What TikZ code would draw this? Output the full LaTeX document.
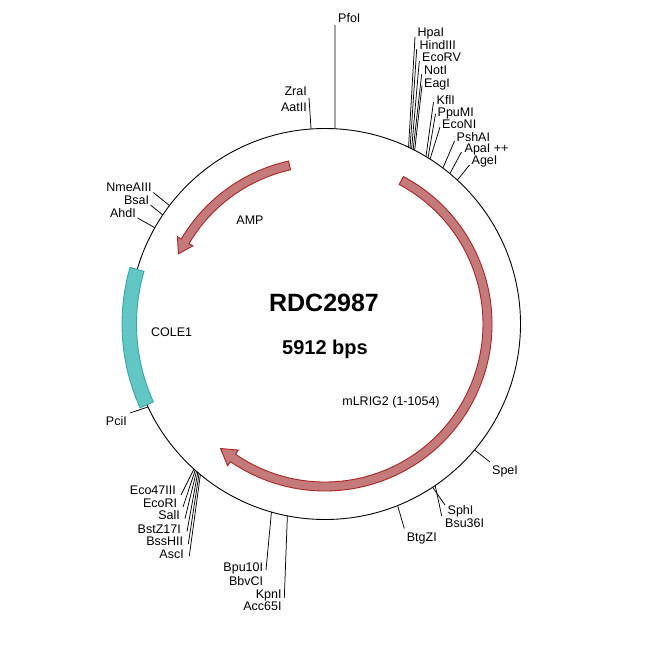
\documentclass[tikz,border=0pt]{standalone}
\usepackage{fontspec}
\setmainfont{Liberation Sans}
\definecolor{featfill}{RGB}{196,122,122}
\definecolor{featline}{RGB}{172,36,36}
\definecolor{orifill}{RGB}{98,198,196}
\definecolor{oriline}{RGB}{56,168,166}
\begin{document}
\begin{tikzpicture}[x=1pt,y=-1pt,
  site/.style={line width=0.75pt},
  lab/.style={font=\fontsize{12.5}{14}\selectfont, inner sep=0pt},
  labw/.style={lab, anchor=base west},
  labe/.style={lab, anchor=base east},
  feat/.style={fill=featfill, draw=featline, line width=0.9pt, line join=miter},
  ori/.style={fill=orifill, draw=oriline, line width=0.9pt}]
\useasboundingbox (0,0) rectangle (650,650);
\fill[white] (0,0) rectangle (650,650);
\coordinate (C) at (325,324);
\draw[line width=0.9pt] (C) circle[radius=195.5];

\begin{scope}[shift={(325,324)}]
% features
\draw[ori] (155.6:188.5) arc[start angle=155.6, end angle=196.2, radius=188.5]
  -- (196.2:203) arc[start angle=196.2, end angle=155.6, radius=203] -- cycle;
\draw[feat] (-62:167) arc[start angle=-62, end angle=124.5, radius=167]
  -- (124.5:172) -- (130:162.5) -- (124.5:153) -- (124.5:158)
  arc[start angle=124.5, end angle=-62, radius=158] -- cycle;
\draw[feat] (-102.6:167) arc[start angle=-102.6, end angle=-149.4, radius=167]
  -- (-149.4:171.5) -- (-154.4:162.5) -- (-149.4:153.5) -- (-149.4:158)
  arc[start angle=-149.4, end angle=-102.6, radius=158] -- cycle;
% site points on the circle
\coordinate (sPfo) at (-87.1:195.5);
\coordinate (sZra) at (-94.1:195.5);
\coordinate (sHpa) at (-64.7:195.5);
\coordinate (sHin) at (-64.2:195.5);
\coordinate (sEcV) at (-63.7:195.5);
\coordinate (sNot) at (-63.2:195.5);
\coordinate (sEag) at (-62.7:195.5);
\coordinate (sKfl) at (-58.9:195.5);
\coordinate (sPpu) at (-58.2:195.5);
\coordinate (sEcN) at (-57.5:195.5);
\coordinate (sPsh) at (-52.9:195.5);
\coordinate (sApa) at (-50.3:195.5);
\coordinate (sAge) at (-47.4:195.5);
\coordinate (sNme) at (-142.7:195.5);
\coordinate (sBsa) at (-146.1:195.5);
\coordinate (sAhd) at (-150.5:195.5);
\coordinate (sPci) at (154.9:195.5);
\coordinate (sE47) at (132.1:195.5);
\coordinate (sERI) at (131.6:195.5);
\coordinate (sSal) at (131.1:195.5);
\coordinate (sBst) at (130.6:195.5);
\coordinate (sBss) at (130.1:195.5);
\coordinate (sAsc) at (129.6:195.5);
\coordinate (sBpu) at (105.9:195.5);
\coordinate (sKpn) at (101.1:195.5);
\coordinate (sBtg) at (68.2:195.5);
\coordinate (sSph) at (56.6:195.5);
\coordinate (sBsu) at (55.7:195.5);
\coordinate (sSpe) at (40.1:195.5);
\end{scope}

% line ends
\coordinate (ePfo) at (335,25);
\coordinate (eZra) at (309,98);
\coordinate (eHpa) at (415,37);
\coordinate (eHin) at (416.7,49);
\coordinate (eEcV) at (419.3,61);
\coordinate (eNot) at (421.7,74);
\coordinate (eEag) at (422,85.5);
\coordinate (eKfl) at (433.5,102);
\coordinate (ePpu) at (435.5,114);
\coordinate (eEcN) at (440,127);
\coordinate (ePsh) at (454.5,141);
\coordinate (eApa) at (461.5,152);
\coordinate (eAge) at (469.5,165);
\coordinate (eNme) at (153.3,192.5);
\coordinate (eBsa) at (150.5,205);
\coordinate (eAhd) at (137.5,218);
\coordinate (ePci) at (130,413);
\coordinate (eE47) at (181,495);
\coordinate (eERI) at (183,507);
\coordinate (eSal) at (185,518.5);
\coordinate (eBst) at (187,531.5);
\coordinate (eBss) at (188.3,544);
\coordinate (eAsc) at (189.3,556);
\coordinate (eBpu) at (266,570);
\coordinate (eKpn) at (284.3,598);
\coordinate (eBtg) at (404.3,528.5);
\coordinate (eSph) at (445,505);
\coordinate (eBsu) at (441.7,516);
\coordinate (eSpe) at (490,462);

\foreach \s in {Pfo,Zra,Hpa,Hin,EcV,Not,Eag,Kfl,Ppu,EcN,Psh,Apa,Age,Nme,Bsa,Ahd,Pci,E47,ERI,Sal,Bst,Bss,Asc,Bpu,Kpn,Btg,Sph,Bsu,Spe}
  \draw[site] (s\s) -- (e\s);

% labels
\node[labw] (lPfo) at (338,22.5) {PfoI};
\node[labe] (lZra) at (307,96) {ZraI};
\node[labe] (lAat) at (307,111.6) {AatII};
\node[labw] (lHpa) at (417.5,37) {HpaI};
\node[labw] (lHin) at (419.5,49.5) {HindIII};
\node[labw] (lEcV) at (422,62) {EcoRV};
\node[labw] (lNot) at (424,75) {NotI};
\node[labw] (lEag) at (424,87.5) {EagI};
\node[labw] (lKfl) at (436.5,104.3) {KflI};
\node[labw] (lPpu) at (437.5,116.3) {PpuMI};
\node[labw] (lEcN) at (442,128.6) {EcoNI};
\node[labw] (lPsh) at (456.5,141) {PshAI};
\node[labw] (lApa) at (464.5,152.6) {ApaI ++};
\node[labw] (lAge) at (471.5,164.3) {AgeI};
\node[labe] (lNme) at (151.7,191.3) {NmeAIII};
\node[labe] (lBsa) at (149.3,204.3) {BsaI};
\node[labe] (lAhd) at (136,217.3) {AhdI};
\node[labe] (lPci) at (127,425.3) {PciI};
\node[labe] (lE47) at (176,494.3) {Eco47III};
\node[labe] (lERI) at (177.3,507) {EcoRI};
\node[labe] (lSal) at (180,519.3) {SalI};
\node[labe] (lBst) at (181,533.6) {BstZ17I};
\node[labe] (lBss) at (183.3,545) {BssHII};
\node[labe] (lAsc) at (184,558.6) {AscI};
\node[labe] (lBpu) at (263.3,571.6) {Bpu10I};
\node[labe] (lBbv) at (263.3,585) {BbvCI};
\node[labe] (lKpn) at (281.7,598.3) {KpnI};
\node[labe] (lAcc) at (281.7,610.3) {Acc65I};
\node[labw] (lBtg) at (406.7,541) {BtgZI};
\node[labw] (lSph) at (447.5,514.3) {SphI};
\node[labw] (lBsu) at (445,527) {Bsu36I};
\node[labw] (lSpe) at (492,474.3) {SpeI};

% feature labels and title
\node[lab, anchor=base] (tAMP) at (250,224.3) {AMP};
\node[lab, anchor=base] (tORI) at (171.7,336) {COLE1};
\node[lab, anchor=base] (tLRIG) at (391,405) {mLRIG2 (1-1054)};
\node[inner sep=0pt, anchor=base, font=\fontsize{25}{28}\selectfont\bfseries] (title) at (324,311.5) {RDC2987};
\node[inner sep=0pt, anchor=base, font=\fontsize{20}{24}\selectfont\bfseries] (size) at (325,354) {5912 bps};
\end{tikzpicture}
\end{document}
